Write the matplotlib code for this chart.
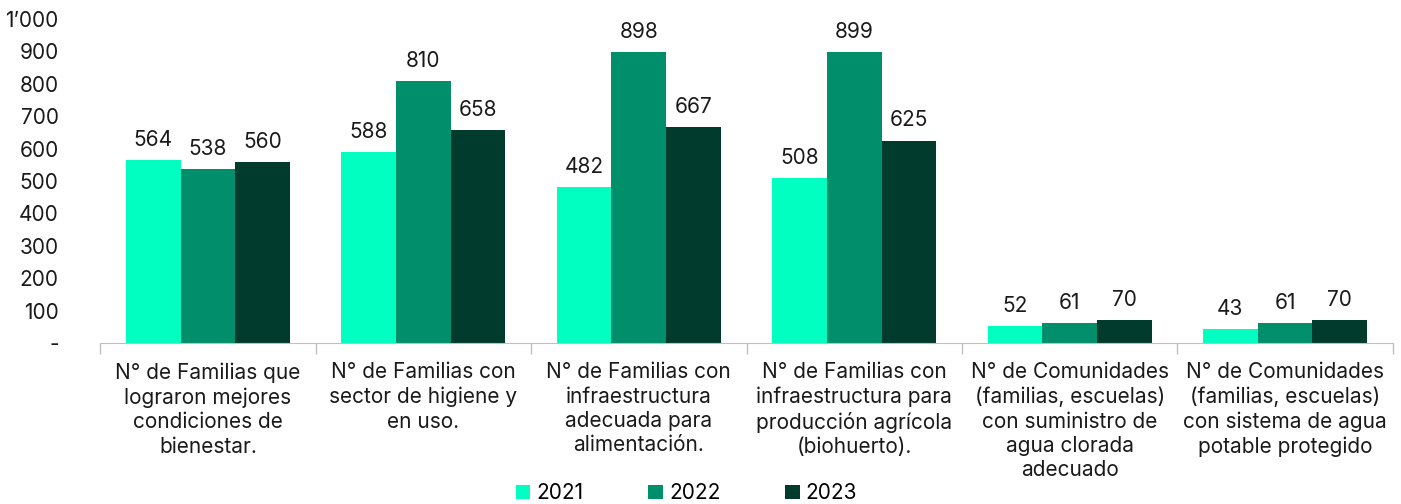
import numpy as np
import matplotlib.pyplot as plt
from matplotlib.ticker import FixedLocator, FuncFormatter
from matplotlib.patches import Patch

plt.rcParams['font.family'] = ['Inter', 'DejaVu Sans']

categories = [
    "N° de Familias que\nlograron mejores\ncondiciones de\nbienestar.",
    "N° de Familias con\nsector de higiene y\nen uso.",
    "N° de Familias con\ninfraestructura\nadecuada para\nalimentación.",
    "N° de Familias con\ninfraestructura para\nproducción agrícola\n(biohuerto).",
    "N° de Comunidades\n(familias, escuelas)\ncon suministro de\nagua clorada\nadecuado",
    "N° de Comunidades\n(familias, escuelas)\ncon sistema de agua\npotable protegido",
]
years = ["2021", "2022", "2023"]
v2021 = [564, 588, 482, 508, 52, 43]
v2022 = [538, 810, 898, 899, 61, 61]
v2023 = [560, 658, 667, 625, 70, 70]
colors = ["#00FFC0", "#008F6A", "#003B2E"]

fig = plt.figure(figsize=(14.01, 5.04), dpi=100)
ax = fig.add_axes([0.0716, 0.3194, 0.9225, 0.6429])

x = np.arange(len(categories))
w = 0.254
for i, (vals, c) in enumerate(zip([v2021, v2022, v2023], colors)):
    bars = ax.bar(x + (i - 1) * w, vals, w, color=c)
    for b, v in zip(bars, vals):
        ax.text(b.get_x() + b.get_width() / 2, v + 31, str(v),
                ha='center', va='bottom', fontsize=15, color='#1a1a1a')

ax.set_xlim(-0.5, len(categories) - 0.5)
ax.set_ylim(0, 1000)
ax.yaxis.set_major_locator(FixedLocator(np.arange(0, 1001, 100)))
ax.yaxis.set_major_formatter(FuncFormatter(
    lambda v, p: "-" if v == 0 else ("1’000" if v == 1000 else f"{int(v)}")))
ax.tick_params(axis='y', length=0, labelsize=15, pad=30, labelcolor='#1a1a1a')
for lab in ax.get_yticklabels():
    lab.set_horizontalalignment('right')

ax.set_xticks(x)
ax.set_xticklabels(categories, fontsize=15, color='#1a1a1a', linespacing=1.27)
ax.set_xticks(np.arange(-0.5, len(categories)), minor=True)
ax.tick_params(axis='x', which='major', length=0, pad=14)
ax.tick_params(axis='x', which='minor', length=8, color='#bfbfbf', width=1)
for lab in ax.get_xticklabels():
    lab.set_verticalalignment('top')

for s in ['top', 'right', 'left']:
    ax.spines[s].set_visible(False)
ax.spines['bottom'].set_color('#bfbfbf')

handles = [Patch(facecolor=c, label=y) for c, y in zip(colors, years)]
fig.legend(handles=handles, loc='lower center', bbox_to_anchor=(0.49, -0.036),
           ncol=3, frameon=False, fontsize=15, handlelength=0.7, handleheight=0.7,
           handletextpad=0.3, columnspacing=3.1)

fig.savefig("out.png", dpi=100)
